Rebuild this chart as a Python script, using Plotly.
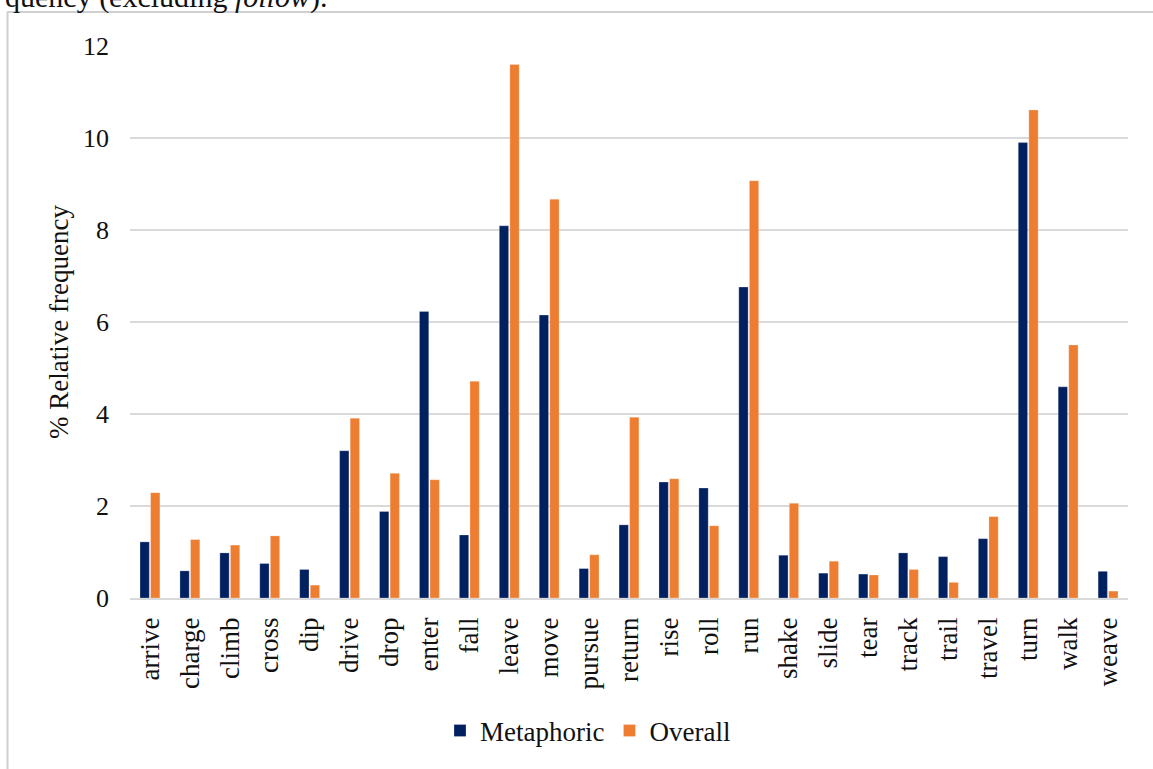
import plotly.graph_objects as go

# Verbs and their relative frequencies (%)
verbs = ["arrive", "charge", "climb", "cross", "dip", "drive", "drop", "enter",
         "fall", "leave", "move", "pursue", "return", "rise", "roll", "run",
         "shake", "slide", "tear", "track", "trail", "travel", "turn", "walk",
         "weave"]
metaphoric = [1.22, 0.59, 0.98, 0.75, 0.62, 3.20, 1.88, 6.23,
              1.37, 8.09, 6.15, 0.64, 1.59, 2.52, 2.39, 6.76,
              0.93, 0.54, 0.52, 0.98, 0.90, 1.29, 9.90, 4.59,
              0.58]
overall = [2.29, 1.27, 1.15, 1.35, 0.28, 3.91, 2.71, 2.57,
           4.71, 11.60, 8.67, 0.94, 3.93, 2.59, 1.57, 9.07,
           2.06, 0.80, 0.50, 0.62, 0.34, 1.77, 10.61, 5.50,
           0.15]
y_ticks = [0, 2, 4, 6, 8, 10, 12]

FONT = "Liberation Serif, Times New Roman, serif"
NAVY = "#002060"
ORANGE = "#ED7D31"
TEXT = "#111111"

W, H = 1153, 769
L, R, T, B = 130, 25, 46, 171
pw, ph = W - L - R, H - T - B


def px_x(x):
    return (x - L) / pw


def px_y(y):
    return (H - B - y) / ph


fig = go.Figure()
fig.add_trace(go.Bar(x=verbs, y=metaphoric, name="Metaphoric",
                     marker=dict(color=NAVY, line=dict(color="rgba(255,255,255,0.5)", width=0.5))))
fig.add_trace(go.Bar(x=verbs, y=overall, name="Overall",
                     marker=dict(color=ORANGE, line=dict(color="rgba(255,255,255,0.5)", width=0.5))))

fig.update_layout(
    width=W, height=H,
    margin=dict(l=L, r=R, t=T, b=B, autoexpand=False),
    paper_bgcolor="white", plot_bgcolor="white",
    font=dict(family=FONT, size=26, color=TEXT),
    barmode="group", bargap=0.47, bargroupgap=0.12,
    showlegend=True,
    legend=dict(orientation="h", xref="paper", yref="paper",
                x=px_x(588), y=px_y(731), xanchor="center", yanchor="middle",
                font=dict(family=FONT, size=27, color=TEXT),
                traceorder="normal"),
    xaxis=dict(type="category", tickangle=-90, showgrid=False,
               showline=True, linecolor="#d9d9d9", linewidth=1.5,
               ticks="", ticklabelstandoff=7,
               tickfont=dict(family=FONT, size=27, color=TEXT)),
    yaxis=dict(range=[0, 12], tickvals=y_ticks, showgrid=True,
               gridcolor="#d9d9d9", gridwidth=1.5, zeroline=False,
               showline=False, ticks="", ticklabelstandoff=20,
               tickfont=dict(family=FONT, size=26, color=TEXT),
               title=dict(text="% Relative frequency", standoff=6,
                          font=dict(family=FONT, size=27, color=TEXT))),
    shapes=[
        dict(type="line", xref="paper", yref="paper",
             x0=px_x(7.5), x1=px_x(7.5), y0=px_y(12), y1=px_y(H + 5),
             line=dict(color="#d0d0d0", width=2)),
        dict(type="line", xref="paper", yref="paper",
             x0=px_x(7), x1=px_x(W + 5), y0=px_y(12), y1=px_y(12),
             line=dict(color="#d0d0d0", width=2)),
    ],
    annotations=[
        dict(text="quency (excluding <i>follow</i>).", xref="paper", yref="paper",
             x=px_x(3), y=px_y(-3), xanchor="left", yanchor="middle",
             showarrow=False,
             font=dict(family=FONT, size=30, color=TEXT)),
    ],
)

fig.write_html("out.html")
